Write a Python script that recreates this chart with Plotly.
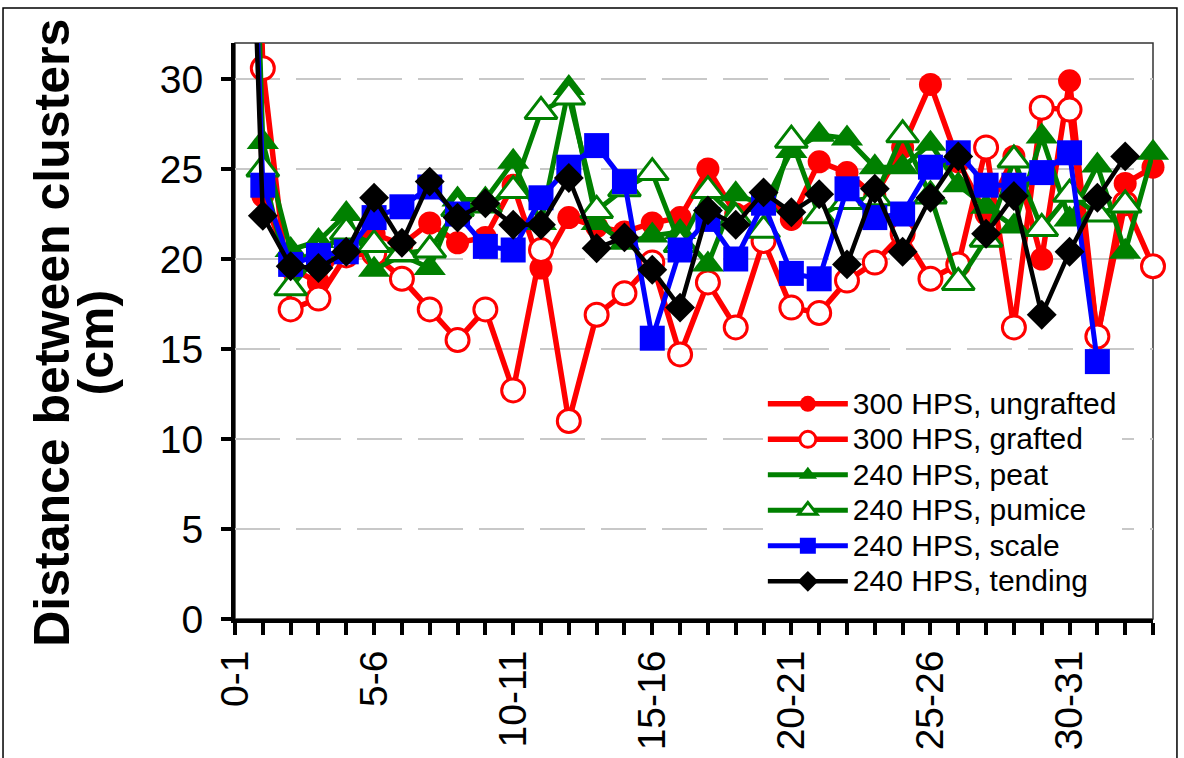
import plotly.graph_objects as go

# Cluster intervals along the stem
categories = ["0-1", "1-2", "2-3", "3-4", "4-5", "5-6", "6-7", "7-8", "8-9", "9-10",
              "10-11", "11-12", "12-13", "13-14", "14-15", "15-16", "16-17", "17-18",
              "18-19", "19-20", "20-21", "21-22", "22-23", "23-24", "24-25", "25-26",
              "26-27", "27-28", "28-29", "29-30", "30-31", "31-32", "32-33", "33-34"]

# Distance between clusters (cm) per treatment
hps300_ungrafted = [80, 23.5, 19.5, 18.7, 20.9, 21.4, 20.8, 22.0, 20.9, 21.2,
                    24.1, 19.5, 22.3, 21.8, 21.5, 22.0, 22.3, 25.0, 22.5, 23.5,
                    22.2, 25.4, 24.8, 23.5, 26.2, 29.7, 25.4, 22.5, 25.7, 20.0,
                    29.9, 15.6, 24.2, 25.1]
hps300_grafted = [85, 30.6, 17.2, 17.8, 20.2, 20.3, 18.9, 17.2, 15.5, 17.2,
                  12.7, 20.5, 11.0, 16.9, 18.1, 19.8, 14.7, 18.7, 16.2, 21.0,
                  17.3, 17.0, 18.8, 19.8, 21.4, 18.9, 19.7, 26.2, 16.2, 28.4,
                  28.3, 15.7, 23.1, 19.6]
hps240_peat = [75, 26.5, 20.5, 21.0, 22.5, 19.4, 20.2, 19.5, 23.3, 23.3,
               25.4, 22.0, 29.5, 22.0, 20.9, 21.3, 21.5, 19.7, 23.6, 23.0,
               26.0, 26.9, 26.7, 25.1, 25.1, 26.4, 24.1, 22.9, 21.8, 26.8,
               22.2, 25.2, 20.4, 25.9]
hps240_pumice = [75, 25.0, 18.4, 20.3, 21.5, 20.8, 20.3, 20.5, 22.8, 23.0,
                 23.8, 28.2, 29.0, 22.7, 23.9, 24.8, 20.8, 23.8, 22.3, 21.6,
                 26.6, 22.4, 23.2, 23.4, 26.9, 23.5, 18.7, 21.1, 25.5, 21.7,
                 23.6, 22.5, 23.0, None]
hps240_scale = [68, 24.1, 19.7, 20.2, 20.4, 22.3, 22.9, 24.0, 22.5, 20.7,
                20.5, 23.4, 25.1, 26.3, 24.3, 15.6, 20.5, 22.2, 20.0, 23.1,
                19.2, 18.9, 23.9, 22.3, 22.5, 25.1, 25.9, 24.1, 24.1, 24.8,
                25.9, 14.3, None, None]
hps240_tending = [67, 22.4, 19.6, 19.5, 20.4, 23.4, 20.9, 24.3, 22.3, 23.1,
                  21.9, 21.9, 24.5, 20.6, 21.2, 19.4, 17.3, 22.7, 21.9, 23.7,
                  22.6, 23.6, 19.7, 23.9, 20.4, 23.4, 25.7, 21.4, 23.5, 16.9,
                  20.4, 23.4, 25.7, None]

y_ticks = [0, 5, 10, 15, 20, 25, 30]
tick_labels = [c if i % 5 == 0 else "" for i, c in enumerate(categories)]

FONT = "Liberation Sans, Arial, sans-serif"
RED, GREEN, BLUE, BLACK = "#ff0000", "#008000", "#0000ff", "#000000"

series = [
    ("300 HPS, ungrafted", hps300_ungrafted, RED, "circle", RED, RED, 23, 5.5),
    ("300 HPS, grafted", hps300_grafted, RED, "circle", "#ffffff", RED, 23, 5.5),
    ("240 HPS, peat", hps240_peat, GREEN, "triangle-up", GREEN, GREEN, 28, 5),
    ("240 HPS, pumice", hps240_pumice, GREEN, "triangle-up", "#ffffff", GREEN, 28, 5),
    ("240 HPS, scale", hps240_scale, BLUE, "square", BLUE, BLUE, 25, 5),
    ("240 HPS, tending", hps240_tending, BLACK, "diamond", BLACK, BLACK, 23, 4.5),
]

fig = go.Figure()
for name, vals, color, symbol, fill, edge, size, lw in series:
    fig.add_trace(go.Scatter(
        x=categories, y=vals, mode="lines+markers",
        name='<span style="font-size:30px">' + name + "</span>",
        line=dict(color=color, width=lw),
        marker=dict(symbol=symbol, size=size, color=fill,
                    line=dict(color=edge, width=3 if fill == "#ffffff" else 0)),
        cliponaxis=False, connectgaps=False,
    ))

fig.update_layout(
    width=1184, height=758,
    margin=dict(l=235, r=31, t=43, b=139, autoexpand=False),
    paper_bgcolor="#ffffff", plot_bgcolor="#ffffff",
    font=dict(family=FONT, color="#000000"),
    showlegend=True,
    legend=dict(
        x=0.575, y=0.413, xanchor="left", yanchor="top",
        bgcolor="#ffffff", borderwidth=0,
        font=dict(family=FONT, size=25, color="#000000"),
        itemwidth=80, tracegroupgap=0,
    ),
    shapes=[
        # thin frame of the plot area
        dict(type="rect", xref="paper", yref="paper", x0=0, x1=1, y0=0, y1=1,
             line=dict(color="#333333", width=1.5), layer="below"),
        # outer chart border
        dict(type="rect", xref="paper", yref="paper",
             x0=-0.2527, x1=1.0261, y0=-0.30, y1=1.0608,
             line=dict(color="#000000", width=1.5), layer="below"),
    ],
    annotations=[
        dict(text="<b>Distance between clusters</b>",
             xref="paper", yref="paper", x=-0.1993, y=0.497,
             xanchor="center", yanchor="middle", textangle=-90,
             showarrow=False, font=dict(family=FONT, size=50, color="#000000")),
        dict(text="<b>(cm)</b>",
             xref="paper", yref="paper", x=-0.1515, y=0.48,
             xanchor="center", yanchor="middle", textangle=-90,
             showarrow=False, font=dict(family=FONT, size=50, color="#000000")),
    ],
)

fig.update_xaxes(
    type="category", range=[0, len(categories) - 1],
    tickmode="array", tickvals=categories, ticktext=tick_labels,
    tickangle=-90, ticks="outside", ticklen=12, tickwidth=4, tickcolor="#000000",
    showline=True, linewidth=4, linecolor="#000000",
    showgrid=False, zeroline=False, automargin=False,
    tickfont=dict(family=FONT, size=39, color="#000000"),
)
fig.update_yaxes(
    range=[0, 32], tickmode="array", tickvals=y_ticks,
    ticks="outside", ticklen=10, tickwidth=4, tickcolor="#000000",
    showline=True, linewidth=4, linecolor="#000000",
    showgrid=True, gridcolor="#c8c8c8", gridwidth=1.5, griddash="45px,16px",
    zeroline=False, automargin=False, ticklabelstandoff=10,
    tickfont=dict(family=FONT, size=39, color="#000000"),
)

fig.write_html("out.html")
